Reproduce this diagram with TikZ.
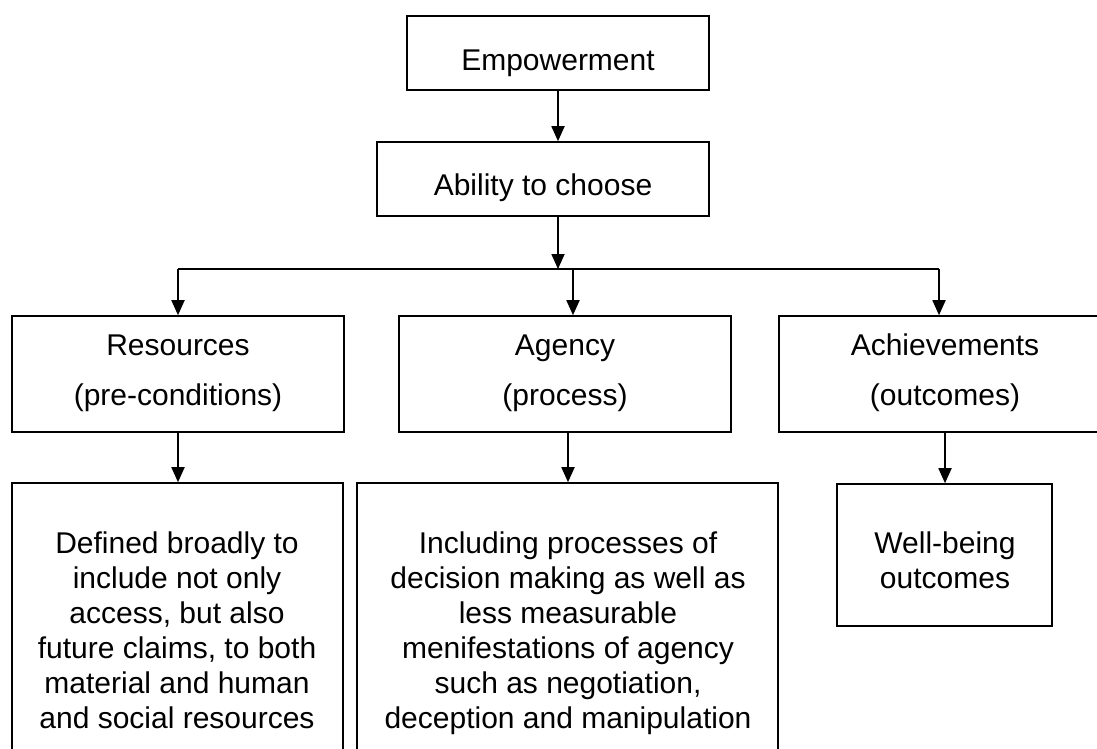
\documentclass[tikz,border=0pt]{standalone}
\usepackage{fontspec}
\setmainfont{Liberation Sans}
\usetikzlibrary{arrows.meta}
\tikzset{
  box/.style={draw=black, line width=1.6pt, rectangle, inner sep=0pt},
  txt/.style={anchor=base, inner sep=0pt, font=\fontsize{30}{35}\selectfont},
  conn/.style={line width=1.8pt, draw=black},
  arr/.style={conn, -{Triangle[length=15pt,width=13pt]}}
}
\newcommand{\boxat}[5]{% name x1 y1 x2 y2
  \node[box, minimum width={#4-#2}, minimum height={#5-#3}] (#1) at ({(#2+#4)/2},{(#3+#5)/2}) {};}
\begin{document}
\begin{tikzpicture}[x=1pt,y=-1pt]
\path[use as bounding box, clip] (0,0) rectangle (1097,748);
\fill[white] (0,0) rectangle (1097,748);
% boxes
\boxat{emp}{407}{16}{709}{90}
\boxat{abil}{377}{142}{709}{216}
\boxat{res}{12}{316}{344}{432}
\boxat{agen}{399}{316}{731}{432}
\boxat{ach}{779}{316}{1111}{432}
\boxat{def}{12}{483}{343}{780}
\boxat{incl}{357}{483}{778}{780}
\boxat{well}{837}{484}{1052}{626}
% texts
\node[txt] (empT) at (558,70) {Empowerment};
\node[txt] (abilT) at (543,195) {Ability to choose};
\node[txt] (resT1) at (178,355) {Resources};
\node[txt] (resT2) at (178,405) {(pre-conditions)};
\node[txt] (agenT1) at (565,355) {Agency};
\node[txt] (agenT2) at (565,405) {(process)};
\node[txt] (achT1) at (945,355) {Achievements};
\node[txt] (achT2) at (945,405) {(outcomes)};
\foreach \t [count=\i from 0] in {Defined broadly to, include not only, {access, but also}, {future claims, to both}, material and human, and social resources}
  \node[txt] (defT\i) at (177,553+35*\i) {\t};
\foreach \t [count=\i from 0] in {Including processes of, decision making as well as, less measurable, menifestations of agency, {such as negotiation,}, deception and manipulation}
  \node[txt] (inclT\i) at (568,553+35*\i) {\t};
\node[txt] (wellT1) at (945,553) {Well-being};
\node[txt] (wellT2) at (945,588) {outcomes};
% connectors
\coordinate (split) at (558,269);
\coordinate (lft) at (178,269);
\coordinate (mid) at (573,269);
\coordinate (rgt) at (939,269);
\draw[arr] (emp.south -| empT) -- (abil.north -| empT);
\draw[arr] (abil.south -| empT) -- (split);
\draw[conn] (lft) -- (rgt);
\draw[arr] (lft) -- (lft |- res.north);
\draw[arr] (mid) -- (mid |- agen.north);
\draw[arr] (rgt) -- (rgt |- ach.north);
\draw[arr] (res.south -| resT1) -- (def.north -| resT1);
\draw[arr] (agen.south -| inclT0) -- (incl.north -| inclT0);
\draw[arr] (ach.south -| achT1) -- (well.north -| achT1);
\end{tikzpicture}
\end{document}
